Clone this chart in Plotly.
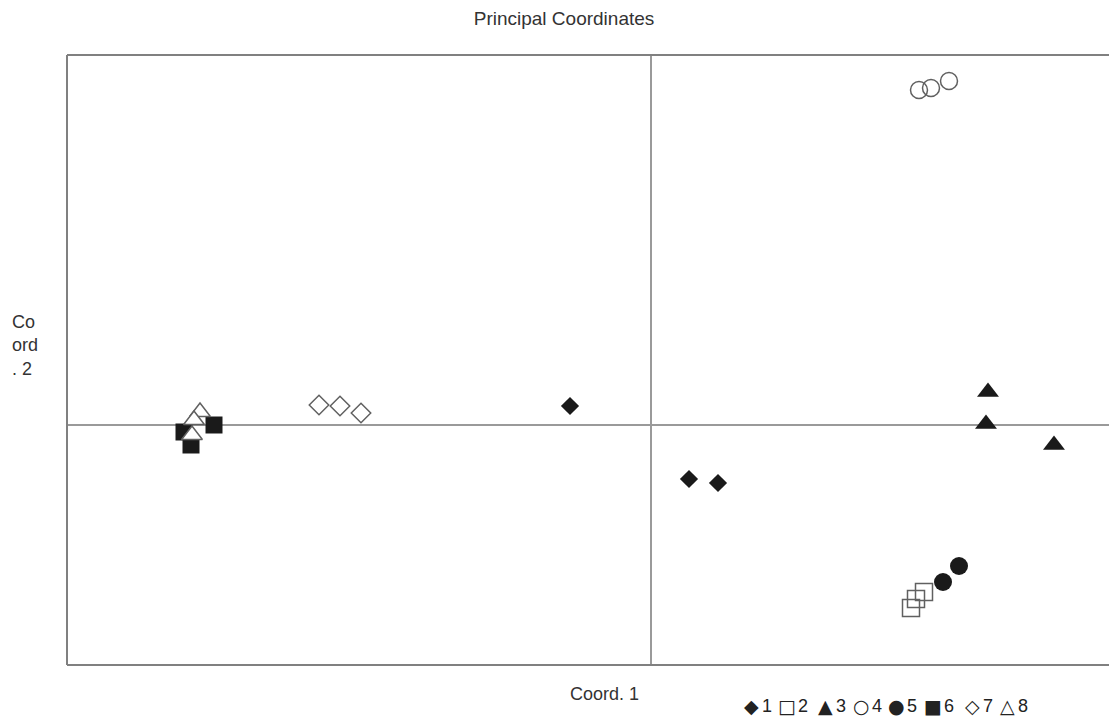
import plotly.graph_objects as go

# Principal coordinates (Coord. 1, Coord. 2) per group
groups = ["1", "2", "3", "4", "5", "6", "7", "8"]
legend_glyphs = ["◆", "□", "▲", "○", "●", "■", "◇", "△"]
x1 = [-0.081, 0.038, 0.067]
y1 = [0.019, -0.054, -0.058]
x2 = [0.260, 0.265, 0.273]
y2 = [-0.183, -0.174, -0.167]
x3 = [0.337, 0.335, 0.403]
y3 = [0.033, 0.001, -0.020]
x4 = [0.268, 0.280, 0.298]
y4 = [0.335, 0.337, 0.344]
x5 = [0.292, 0.308]
y5 = [-0.157, -0.141]
x6 = [-0.467, -0.460, -0.437]
y6 = [-0.007, -0.020, 0.000]
x7 = [-0.332, -0.311, -0.290]
y7 = [0.020, 0.019, 0.012]
x8 = [-0.451, -0.457, -0.459]
y8 = [0.013, 0.005, -0.010]

xs = [x1, x2, x3, x4, x5, x6, x7, x8]
ys = [y1, y2, y3, y4, y5, y6, y7, y8]

BLACK = "#1a1a1a"
GRAY = "#606060"
TEXT = "#333333"
styles = [
    dict(symbol="diamond", size=14, color=BLACK, line=dict(width=0)),
    dict(symbol="square-open", size=17, color=GRAY, line=dict(width=1.5, color=GRAY)),
    dict(symbol="triangle-up", size=19, color=BLACK, line=dict(width=0)),
    dict(symbol="circle-open", size=17, color=GRAY, line=dict(width=1.5, color=GRAY)),
    dict(symbol="circle", size=18, color=BLACK, line=dict(width=0)),
    dict(symbol="square", size=17, color=BLACK, line=dict(width=0)),
    dict(symbol="diamond-open", size=15, color=GRAY, line=dict(width=1.5, color=GRAY)),
    dict(symbol="triangle-up", size=18, color="white", line=dict(width=1.5, color=GRAY)),
]

W, H = 1109, 719
L, R, T, B = 67, 0, 55, 54
PW, PH = W - L - R, H - T - B


def px_x(p):
    return (p - L) / PW


def px_y(p):
    return (H - B - p) / PH


fig = go.Figure()
for name, xv, yv, st in zip(groups, xs, ys, styles):
    fig.add_trace(go.Scatter(x=xv, y=yv, mode="markers", name=name,
                             marker=st, cliponaxis=False, showlegend=False))

axis_common = dict(showgrid=False, showticklabels=False, ticks="",
                   zeroline=True, zerolinecolor="#9a9a9a", zerolinewidth=1.5,
                   showline=False, fixedrange=True)

annotations = [
    dict(text="Coord. 1", xref="paper", yref="paper",
         x=px_x(604), y=px_y(694), xanchor="center", yanchor="middle",
         showarrow=False, font=dict(size=18, color=TEXT)),
    dict(text="Co<br>ord<br>. 2", xref="paper", yref="paper",
         x=px_x(10), y=px_y(345), xanchor="left", yanchor="middle",
         align="left", showarrow=False, font=dict(size=18, color=TEXT)),
]
# legend drawn as a row of glyph + label texts
glyph_centers = [751, 787, 825, 861, 896, 933, 972, 1007]
for g, glyph, cx in zip(groups, legend_glyphs, glyph_centers):
    annotations.append(dict(text=glyph, xref="paper", yref="paper",
                            x=px_x(cx), y=px_y(706), xanchor="center", yanchor="middle",
                            showarrow=False,
                            font=dict(size=19, color="#222222",
                                      family="DejaVu Sans, sans-serif")))
    annotations.append(dict(text=g, xref="paper", yref="paper",
                            x=px_x(cx + 16), y=px_y(706), xanchor="center", yanchor="middle",
                            showarrow=False, font=dict(size=18, color="#222222")))

fig.update_layout(
    width=W, height=H,
    paper_bgcolor="white", plot_bgcolor="white",
    margin=dict(l=L, r=R, t=T, b=B, autoexpand=False),
    font=dict(family="Liberation Sans, Arial, sans-serif", color=TEXT),
    title=dict(text="Principal Coordinates", xref="container", x=564 / W, xanchor="center",
               y=1 - 18 / H, yanchor="middle", font=dict(size=19, color=TEXT)),
    xaxis=dict(range=[-0.584, 0.458], **axis_common),
    yaxis=dict(range=[-0.240, 0.370], **axis_common),
    showlegend=False,
    hovermode=False,
    shapes=[
        dict(type="line", xref="paper", yref="paper", x0=0, x1=0, y0=0, y1=1,
             line=dict(color="#808080", width=2)),
        dict(type="line", xref="paper", yref="paper", x0=0, x1=1, y0=1, y1=1,
             line=dict(color="#808080", width=2)),
        dict(type="line", xref="paper", yref="paper", x0=0, x1=1, y0=0, y1=0,
             line=dict(color="#808080", width=2)),
    ],
    annotations=annotations,
)

fig.write_html("out.html", config={"displayModeBar": False},
               post_script="document.body.style.margin='0';")
